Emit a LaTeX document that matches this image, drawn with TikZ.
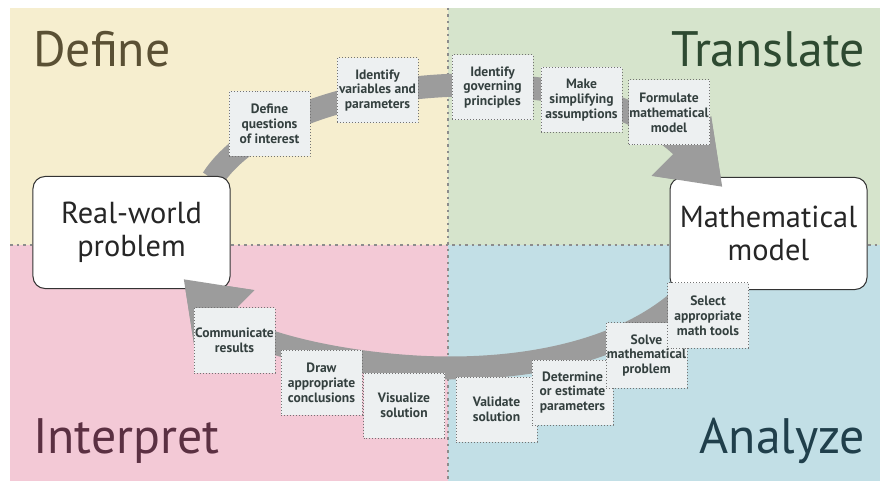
\documentclass[tikz,border=0pt]{standalone}
\usepackage{fontspec}
\setmainfont{PT Sans}
\usetikzlibrary{arrows.meta}
\definecolor{defbg}{HTML}{F6EECF}
\definecolor{trabg}{HTML}{D6E4CC}
\definecolor{intbg}{HTML}{F3C9D6}
\definecolor{anabg}{HTML}{C2DFE6}
\definecolor{deftxt}{HTML}{5A5034}
\definecolor{tratxt}{HTML}{2E4A31}
\definecolor{inttxt}{HTML}{5B3042}
\definecolor{anatxt}{HTML}{203F4B}
\definecolor{bandgray}{HTML}{9C9C9C}
\definecolor{stepfill}{HTML}{EDF0F1}
\definecolor{steptxt}{HTML}{34403F}
\pgfdeclarelayer{bg}
\pgfdeclarelayer{mid}
\pgfdeclarelayer{front}
\pgfsetlayers{bg,mid,main,front}

\begin{document}
\begin{tikzpicture}[x=1bp,y=-1bp,
  phase/.style={font=\fontsize{50}{50}\selectfont, inner sep=0pt},
  bigbox/.style={draw=black!80, line width=1bp, rounded corners=12bp, fill=white,
    minimum width=197bp, minimum height=112bp, align=center,
    font=\fontsize{30.5}{33}\selectfont, text=black!85},
  stepbox/.style={draw=black!55, dotted, line width=1bp, fill=stepfill,
    minimum width=81bp, minimum height=65bp, inner sep=0.5bp, align=center,
    font=\bfseries\fontsize{13.6}{15}\selectfont, text=steptxt},
  band/.style={draw=bandgray, line width=23bp, -{Triangle[length=58bp,width=80bp]}},
  divider/.style={draw=black!45, line width=1.2bp, dash pattern=on 2.5bp off 4bp}]
\useasboundingbox (0,0) rectangle (880,481);

% Quadrants and phase names
\begin{pgfonlayer}{bg}
\fill[defbg] (10,8) rectangle (448,245);
\fill[trabg] (448,8) rectangle (880,245);
\fill[intbg] (10,245) rectangle (448,481);
\fill[anabg] (448,245) rectangle (880,481);
\draw[divider] (448,8) -- (448,481);
\draw[divider] (10,245) -- (880,245);
\node[phase, text=deftxt, anchor=base west] (define) at (33,67) {Define};
\node[phase, text=tratxt, anchor=base east] (translate) at (865,67) {Translate};
\node[phase, text=inttxt, anchor=base west] (interpret) at (33,453) {Interpret};
\node[phase, text=anatxt, anchor=base east] (analyze) at (865,453) {Analyze};
\end{pgfonlayer}

% The two main boxes
\node[bigbox] (rw) at (131.5,232.5) {Real-world\\problem};
\node[bigbox] (mm) at (768.5,233.5) {Mathematical\\model};

% Cycle (behind the boxes)
\begin{pgfonlayer}{mid}
\draw[band] ([shift={(-18,3)}]rw.north east) .. controls (245,128) and (340,88) .. (460,85)
  .. controls (560,83) and (640,105) .. ([shift={(53,10)}]mm.north west);
\draw[band] ([shift={(25,-4)}]mm.south west) .. controls (640,345) and (545,368) .. (450,368)
  .. controls (360,368) and (250,345) .. ([shift={(-47,-10)}]rw.south east);
\end{pgfonlayer}

% Arrow heads over the box edges
\draw[band] ([shift={(12,-31)}]mm.north west) -- ([shift={(53,10)}]mm.north west);
\draw[band] ([shift={(-6,31)}]rw.south east) -- ([shift={(-47,-10)}]rw.south east);

% Steps along the cycle
\begin{pgfonlayer}{front}
\node[stepbox] (defq) at (269.5,124) {Define\\questions\\of interest};
\node[stepbox] (idvar) at (377.5,90.5) {Identify\\variables and\\parameters};
\node[stepbox] (idgov) at (492.5,87.5) {Identify\\governing\\principles};
\node[stepbox] (simp) at (581.5,100) {Make\\simplifying\\assumptions};
\node[stepbox] (form) at (669,112.5) {Formulate\\mathematical\\model};
% lower row, the later ones lie on top
\node[stepbox] (comm) at (234.5,340.5) {Communicate\\results};
\node[stepbox] (concl) at (321.5,382.5) {Draw\\appropriate\\conclusions};
\node[stepbox] (vis) at (404,405.5) {Visualize\\solution};
\node[stepbox] (valid) at (496.5,409.5) {Validate\\solution};
\node[stepbox] (param) at (572.5,392.5) {Determine\\or estimate\\parameters};
\node[stepbox] (solve) at (646.5,355.5) {Solve\\mathematical\\problem};
\node[stepbox] (tools) at (708,315.5) {Select\\appropriate\\math tools};
\end{pgfonlayer}
\end{tikzpicture}
\end{document}
